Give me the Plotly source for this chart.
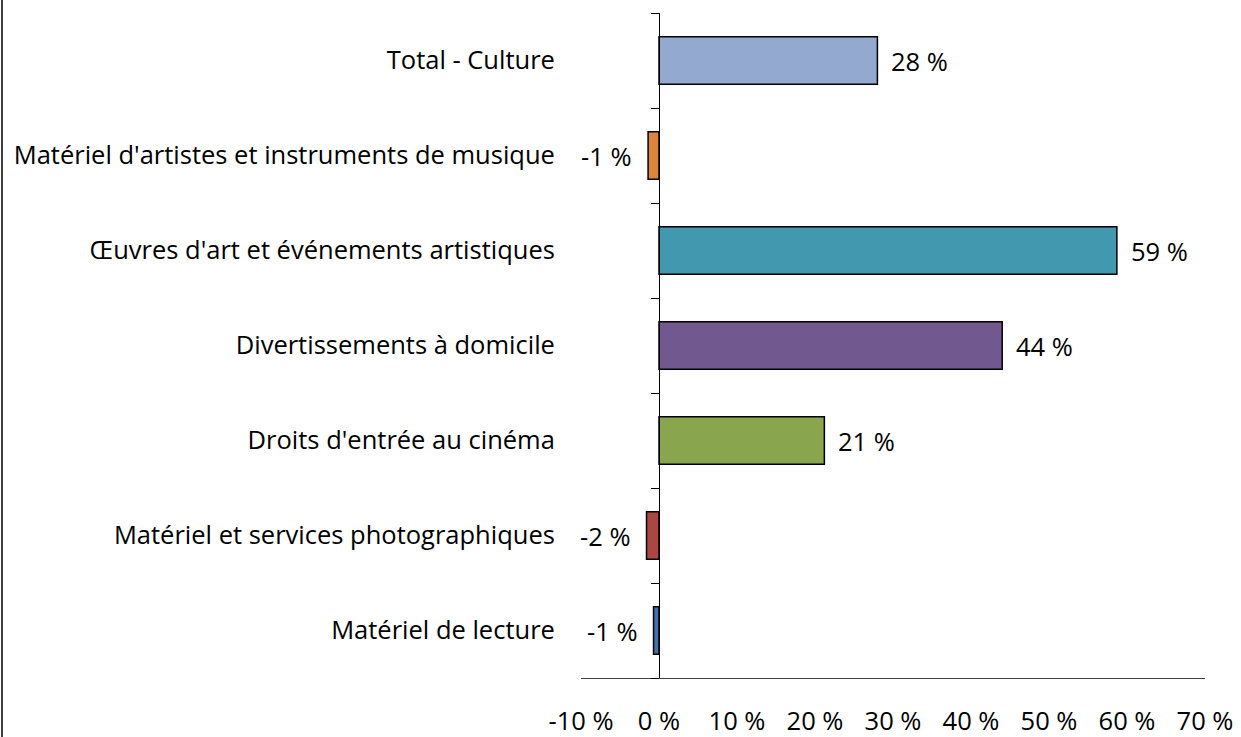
import plotly.graph_objects as go

categories = [
    "Matériel de lecture",
    "Matériel et services photographiques",
    "Droits d'entrée au cinéma",
    "Divertissements à domicile",
    "Œuvres d'art et événements artistiques",
    "Matériel d'artistes et instruments de musique",
    "Total - Culture",
]
values = [-0.7, -1.6, 21.2, 44.0, 58.7, -1.4, 28.0]
value_labels = ["-1 %", "-2 %", "21 %", "44 %", "59 %", "-1 %", "28 %"]
colors = ["#4572A7", "#AA4643", "#89A54E", "#71588F", "#4198AF", "#DB843D", "#93A9CF"]
x_ticks = [-10, 0, 10, 20, 30, 40, 50, 60, 70]
x_tick_labels = ["-10 %", "0 %", "10 %", "20 %", "30 %", "40 %", "50 %", "60 %", "70 %"]

FONT = "Open Sans"
FS = 25.5
W, H = 1241, 737
ML, MR, MT, MB = 581, 36, 13, 59

fig = go.Figure()
fig.add_trace(go.Bar(
    x=values, y=categories, orientation="h",
    marker=dict(color=colors, line=dict(color="black", width=1.5)),
    hoverinfo="x+y",
))

for v, c, t in zip(values, categories, value_labels):
    fig.add_annotation(
        x=v, y=c, xref="x", yref="y", text=t, showarrow=False,
        xanchor="left" if v >= 0 else "right",
        xshift=12 if v >= 0 else -14,
        font=dict(family=FONT, size=FS, color="black"),
    )

xr = [x_ticks[0], x_ticks[-1]]
fig.update_layout(
    width=W, height=H,
    margin=dict(l=ML, r=MR, t=MT, b=MB, autoexpand=False),
    paper_bgcolor="white", plot_bgcolor="white",
    bargap=0.5, showlegend=False,
    font=dict(family=FONT, size=FS, color="black"),
    xaxis=dict(
        range=xr, tickvals=x_ticks, ticktext=x_tick_labels,
        showgrid=False, zeroline=False, showline=True,
        linecolor="#404040", linewidth=1, ticks="",
        ticklabelstandoff=20, automargin=False,
        tickfont=dict(family=FONT, size=FS),
    ),
    yaxis=dict(
        type="category", categoryorder="array", categoryarray=categories,
        range=[-0.5, len(categories) - 0.5],
        anchor="free", position=(0 - xr[0]) / (xr[1] - xr[0]),
        showline=True, linecolor="black", linewidth=1,
        ticks="outside", ticklen=8, tickcolor="black", tickson="boundaries",
        showgrid=False, zeroline=False, automargin=False,
        ticklabelstandoff=99,
        tickfont=dict(family=FONT, size=FS),
    ),
    shapes=[dict(type="line", xref="paper", yref="paper",
                 x0=(2 - ML) / (W - ML - MR), x1=(2 - ML) / (W - ML - MR),
                 y0=-MB / (H - MT - MB), y1=1 + MT / (H - MT - MB),
                 line=dict(color="#404040", width=2))],
)

fig.write_html("out.html", config={"displayModeBar": False},
               post_script="document.body.style.margin='0';")
